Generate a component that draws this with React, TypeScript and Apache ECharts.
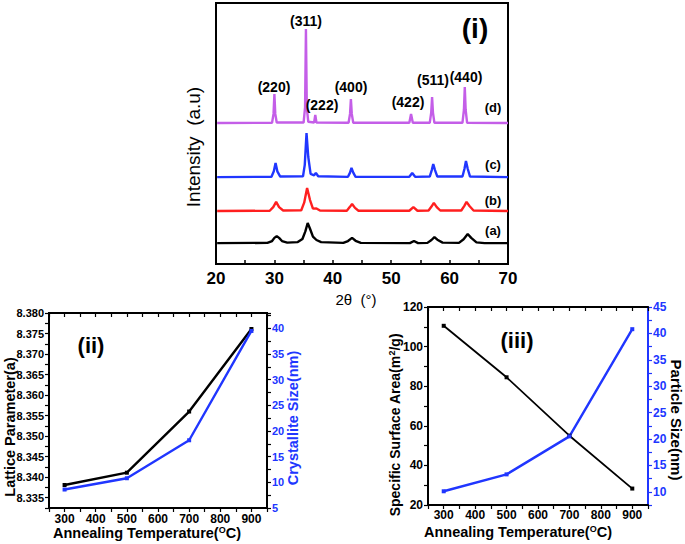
import React, { useEffect, useRef } from 'react';
import * as echarts from 'echarts';

// ---------- Panel (i): XRD patterns, [2θ (°), intensity (a.u., offset)] ----------
const xrdA: [number, number][] = [
  [20.2, 8.0], [28.8, 8.1], [29.6, 8.8], [30.0, 10.0], [30.4, 10.7], [30.8, 10.0], [31.3, 8.8], [32.2, 8.2],
  [34.0, 8.4], [34.8, 9.6], [35.3, 12.5], [35.7, 15.7], [36.1, 13.5], [36.6, 10.5], [37.2, 9.2], [38.0, 8.4],
  [41.8, 8.1], [42.6, 8.8], [43.3, 10.0], [43.9, 8.9], [44.8, 8.1], [53.2, 8.0], [53.9, 8.8], [54.6, 8.0],
  [56.2, 8.1], [56.9, 9.2], [57.4, 10.3], [57.9, 9.3], [58.8, 8.2], [61.6, 8.1], [62.4, 9.5], [63.1, 11.5],
  [63.7, 10.0], [64.6, 8.3], [66.0, 8.0], [70.0, 8.0],
];
const xrdB: [number, number][] = [
  [20.2, 20.3], [29.2, 20.4], [29.8, 21.8], [30.3, 23.8], [30.8, 21.8], [31.5, 20.5], [34.6, 20.6], [35.1, 23.5],
  [35.6, 29.1], [36.1, 24.5], [36.6, 21.2], [37.2, 21.3], [37.8, 20.5], [42.4, 20.4], [42.9, 21.8], [43.3, 23.0],
  [43.8, 21.5], [44.4, 20.4], [53.1, 20.4], [53.8, 21.8], [54.5, 20.4], [56.4, 20.5], [56.9, 22.0], [57.3, 23.4],
  [57.8, 21.8], [58.4, 20.5], [62.0, 20.5], [62.5, 22.2], [62.9, 23.8], [63.4, 22.2], [64.1, 20.5], [70.0, 20.3],
];
const xrdC: [number, number][] = [
  [20.2, 33.3], [29.5, 33.4], [29.9, 35.5], [30.2, 38.7], [30.5, 35.5], [31.0, 33.5], [34.9, 33.6], [35.2, 38.0],
  [35.5, 50.2], [35.8, 41.0], [36.2, 34.5], [36.8, 34.0], [37.1, 34.9], [37.5, 33.6], [42.6, 33.4], [42.95, 35.0],
  [43.2, 36.8], [43.5, 35.0], [43.9, 33.4], [53.1, 33.4], [53.6, 34.9], [54.1, 33.4], [56.6, 33.5], [56.95, 36.0],
  [57.2, 38.3], [57.5, 36.0], [57.9, 33.5], [62.2, 33.5], [62.55, 36.5], [62.8, 39.5], [63.1, 36.5], [63.5, 33.5],
  [70.0, 33.3],
];
const xrdD: [number, number][] = [
  [20.2, 54.0], [29.6, 54.1], [29.85, 57.5], [30.0, 65.1], [30.15, 57.5], [30.4, 54.2], [35.0, 54.2], [35.25, 60.0],
  [35.4, 90.0], [35.55, 60.0], [35.8, 54.5], [36.8, 54.2], [37.0, 57.1], [37.2, 54.2], [42.7, 54.1], [42.95, 57.5],
  [43.1, 63.2], [43.25, 57.5], [43.5, 54.1], [53.1, 54.1], [53.4, 57.5], [53.7, 54.1], [56.6, 54.1], [56.85, 58.0],
  [57.0, 64.0], [57.15, 58.0], [57.4, 54.1], [62.2, 54.1], [62.45, 59.0], [62.6, 67.8], [62.75, 59.0], [63.0, 54.1],
  [70.0, 54.0],
];
const peakLabels = ['(220)', '(311)', '(222)', '(400)', '(422)', '(511)', '(440)'];
const traceLabels = ['(a)', '(b)', '(c)', '(d)'];

// ---------- Panels (ii) and (iii) ----------
const annealTemp = [300, 500, 700, 900];
const latticeParam = [8.3381, 8.3411, 8.356, 8.3761];
const crystalliteSize = [8.6, 10.8, 18.2, 39.5];
const surfaceArea = [110.5, 84.5, 55.0, 28.3];
const particleSize = [10.1, 13.3, 20.5, 40.8];

const FONT = '"Liberation Sans", Arial, sans-serif';
const BLUE = '#2036ff';
const PURPLE = '#c45ee8';
const RED = '#ff1f1f';

const zip = (xs: number[], ys: number[]) => xs.map((x, i) => [x, ys[i]]);
const isMult = (v: number, step: number) => Math.abs(v / step - Math.round(v / step)) < 1e-6;

const tempAxis = (gridIndex: number, top: boolean, margin: number) => ({
  type: 'value', gridIndex, min: 250, max: 950, interval: 50,
  position: top ? 'top' : 'bottom',
  axisLine: { show: true, lineStyle: { color: '#000', width: 2 } },
  axisTick: { show: true, inside: top, length: 4, lineStyle: { color: '#000', width: 1.2 } },
  axisLabel: top ? { show: false } : {
    show: true, margin, color: '#000', fontFamily: FONT, fontWeight: 'bold', fontSize: 12,
    formatter: (v: number) => (isMult(v, 100) && v >= 300 && v <= 900 ? String(v) : ''),
  },
  splitLine: { show: false },
});

const App: React.FC = () => {
  const ref = useRef<HTMLDivElement>(null);
  useEffect(() => {
    if (!ref.current) return;
    const chart = echarts.init(ref.current, undefined, { renderer: 'svg' });

    const peakPos = [[274, 87], [306, 21], [322, 105], [351, 87], [408, 102], [433, 80], [466, 77]];
    const tracePos = [[493, 230], [493, 200], [493, 164], [493, 107]];
    const txt = (text: string, x: number, y: number, size: number, opts: any = {}) => ({
      type: 'text', x, y, rotation: opts.rotation || 0, z: 100,
      style: {
        text, fill: opts.color || '#000', font: `${opts.weight || 'bold'} ${size}px ${FONT}`,
        fontFamily: FONT, fontSize: size, fontWeight: opts.weight || 'bold',
        textAlign: 'center', textVerticalAlign: 'middle', align: 'center', verticalAlign: 'middle',
        rich: opts.rich,
      },
    });
    const supRich = (size: number, color = '#000') => ({
      s: { fontSize: size, fontFamily: FONT, fontWeight: 'bold', fill: color, color, verticalAlign: 'top', padding: [0, 0, 6, 0] },
    });

    const graphic: any[] = [
      ...peakLabels.map((t, i) => txt(t, peakPos[i][0], peakPos[i][1], 14)),
      ...traceLabels.map((t, i) => txt(t, tracePos[i][0], tracePos[i][1], 13)),
      txt('(i)', 475, 28, 28),
      txt('Intensity  (a.u)', 193, 147, 19, { rotation: Math.PI / 2, weight: 'normal' }),
      txt('2θ  (°)', 356, 299, 15, { weight: 'normal' }),
      txt('(ii)', 91, 345, 22),
      txt('Lattice Parameter(a)', 10, 427, 14.5, { rotation: Math.PI / 2 }),
      txt('Crystallite Size(nm)', 293, 418, 14.5, { rotation: Math.PI / 2, color: BLUE }),
      txt('Annealing Temperature({s|O}C)', 147, 533, 14.5, { rich: supRich(9) }),
      txt('(iii)', 517, 340, 22),
      txt('Specific Surface Area(m{s|2}/g)', 395, 425, 14, { rotation: Math.PI / 2, rich: supRich(9) }),
      txt('Particle Size(nm)', 676, 420, 15, { rotation: -Math.PI / 2 }),
      txt('Annealing Temperature({s|O}C)', 518, 532, 14.5, { rich: supRich(9) }),
    ];

    const line = (name: string, data: any, color: string, xi: number, yi: number, width: number, symbol: boolean) => ({
      type: 'line', name, data, xAxisIndex: xi, yAxisIndex: yi,
      showSymbol: symbol, symbol: 'rect', symbolSize: 4,
      lineStyle: { color, width }, itemStyle: { color }, emphasis: { disabled: true },
    });

    chart.setOption({
      animation: false,
      backgroundColor: '#fff',
      textStyle: { fontFamily: FONT },
      grid: [
        { left: 216, top: 3, width: 292, height: 261, show: true, borderColor: '#000', borderWidth: 2, backgroundColor: 'transparent' },
        { left: 49, top: 313, width: 218, height: 195, show: true, borderColor: '#000', borderWidth: 2, backgroundColor: 'transparent' },
        { left: 428, top: 307, width: 220, height: 198, show: true, borderColor: '#000', borderWidth: 2, backgroundColor: 'transparent' },
      ],
      xAxis: [
        {
          type: 'value', gridIndex: 0, min: 20, max: 70, interval: 10,
          axisLine: { show: true, lineStyle: { color: '#000', width: 2 } },
          axisTick: { show: true, inside: true, length: 4, lineStyle: { color: '#000', width: 1.5 } },
          minorTick: { show: true, splitNumber: 2, length: 4, lineStyle: { color: '#000', width: 1.5 } },
          axisLabel: { margin: 6, color: '#000', fontFamily: FONT, fontWeight: 'bold', fontSize: 17 },
          splitLine: { show: false },
        },
        tempAxis(1, false, 5),
        tempAxis(1, true, 5),
        tempAxis(2, false, 4),
        tempAxis(2, true, 4),
      ],
      yAxis: [
        {
          type: 'value', gridIndex: 0, min: 0, max: 100,
          axisLine: { show: true, lineStyle: { color: '#000', width: 2 } },
          axisTick: { show: false }, axisLabel: { show: false }, splitLine: { show: false },
        },
        {
          type: 'value', gridIndex: 1, min: 8.3325, max: 8.38, interval: 0.0025, position: 'left',
          axisLine: { show: true, lineStyle: { color: '#000', width: 2 } },
          axisTick: { show: true, length: 4, lineStyle: { color: '#000', width: 1.2 } },
          axisLabel: {
            margin: 5, color: '#000', fontFamily: FONT, fontWeight: 'bold', fontSize: 11,
            formatter: (v: number) => (isMult(v, 0.005) ? v.toFixed(3) : ''),
          },
          splitLine: { show: false },
        },
        {
          type: 'value', gridIndex: 1, min: 5, max: 43, interval: 2.5, position: 'right',
          axisLine: { show: true, lineStyle: { color: '#000', width: 2 } },
          axisTick: { show: true, length: 4, lineStyle: { color: '#000', width: 1.2 } },
          axisLabel: {
            margin: 5, color: BLUE, fontFamily: FONT, fontWeight: 'bold', fontSize: 11,
            formatter: (v: number) => (isMult(v, 5) && v <= 40 ? String(v) : ''),
          },
          splitLine: { show: false },
        },
        {
          type: 'value', gridIndex: 2, min: 20, max: 120, interval: 10, position: 'left',
          axisLine: { show: true, lineStyle: { color: '#000', width: 2 } },
          axisTick: { show: true, length: 4, lineStyle: { color: '#000', width: 1.2 } },
          axisLabel: {
            margin: 5, color: '#000', fontFamily: FONT, fontWeight: 'bold', fontSize: 12,
            formatter: (v: number) => (isMult(v, 20) ? String(v) : ''),
          },
          splitLine: { show: false },
        },
        {
          type: 'value', gridIndex: 2, min: 7.5, max: 45, interval: 2.5, position: 'right',
          axisLine: { show: true, lineStyle: { color: BLUE, width: 2 } },
          axisTick: { show: true, length: 4, lineStyle: { color: BLUE, width: 1.2 } },
          axisLabel: {
            margin: 5, color: BLUE, fontFamily: FONT, fontWeight: 'bold', fontSize: 12,
            formatter: (v: number) => (isMult(v, 5) ? String(v) : ''),
          },
          splitLine: { show: false },
        },
      ],
      series: [
        line('(a)', xrdA, '#000', 0, 0, 2.4, false),
        line('(b)', xrdB, RED, 0, 0, 2.4, false),
        line('(c)', xrdC, BLUE, 0, 0, 2.4, false),
        line('(d)', xrdD, PURPLE, 0, 0, 2.4, false),
        line('Lattice Parameter', zip(annealTemp, latticeParam), '#000', 1, 1, 2.4, true),
        line('Crystallite Size', zip(annealTemp, crystalliteSize), BLUE, 1, 2, 2.4, true),
        line('Specific Surface Area', zip(annealTemp, surfaceArea), '#000', 3, 3, 1.8, true),
        line('Particle Size', zip(annealTemp, particleSize), BLUE, 3, 4, 2.4, true),
      ],
      graphic,
    });
    return () => chart.dispose();
  }, []);
  return <div ref={ref} style={{ position: 'fixed', left: 0, top: 0, width: 685, height: 544 }} />;
};

export default App;
